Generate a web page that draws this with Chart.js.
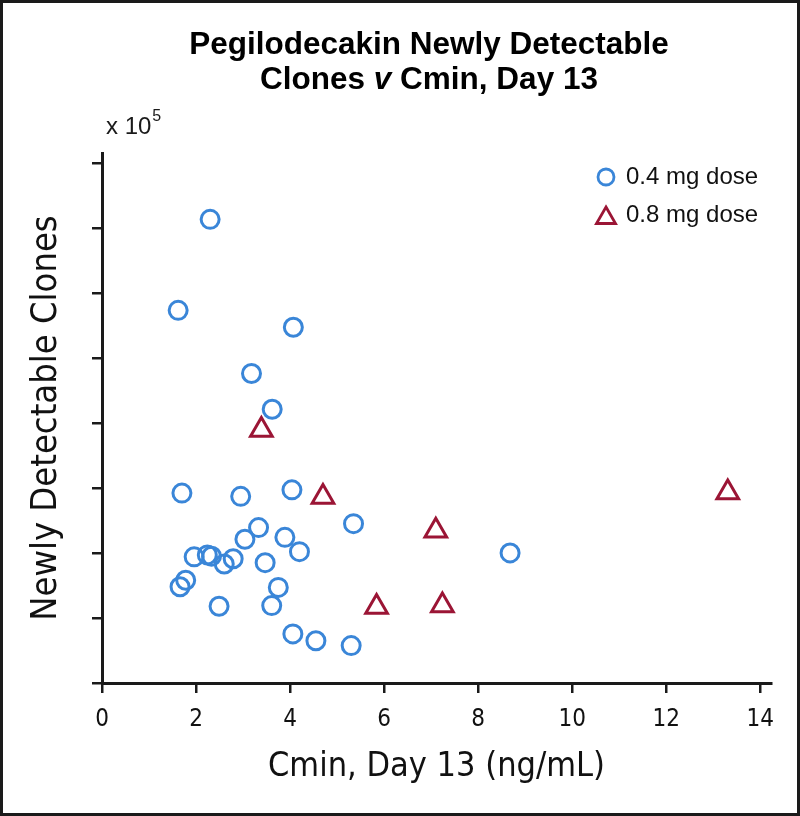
<!DOCTYPE html>
<html><head><meta charset="utf-8">
<script src="https://cdn.jsdelivr.net/npm/chart.js@4/dist/chart.umd.min.js"></script>
<style>
html,body{margin:0;padding:0;background:#fff;}
#frame{width:800px;height:816px;box-sizing:border-box;border:3px solid #1a1a1a;background:#fff;}
canvas{display:block;}
</style></head><body>
<div id="frame"><canvas id="c" width="794" height="810" style="width:794px;height:810px"></canvas></div>
<script>
// Cmin (ng/mL) and newly detectable clones (x 10^5)
const dose04Cmin   = [2.30,1.62,4.07,3.18,3.62,1.70,2.95,4.04,5.35,3.33,3.04,3.89,4.20,8.68,1.96,2.24,2.33,2.79,2.60,3.47,1.78,1.66,3.75,3.61,2.49,4.06,4.55,5.30];
const dose04Clones = [7.13,5.73,5.47,4.76,4.21,2.92,2.87,2.97,2.45,2.39,2.21,2.24,2.02,2.00,1.94,1.97,1.95,1.91,1.83,1.85,1.58,1.48,1.47,1.19,1.18,0.755,0.65,0.575];
const dose08Cmin   = [3.39,4.70,7.10,13.31,5.84,7.24];
const dose08Clones = [3.89,2.86,2.34,2.93,1.17,1.19];
const xTicks = [0,2,4,6,8,10,12,14];
const yTicks = [0,1,2,3,4,5,6,7,8];
const seriesNames = ['0.4 mg dose','0.8 mg dose'];

const BLUE = '#3a86d8', RED = '#9b1535', INK = '#1a1a1a';
const NARROW = "'Liberation Sans Narrow','DejaVu Sans Condensed','Roboto',sans-serif";
const SANS = "'Liberation Sans','Helvetica','Arial',sans-serif";

const toPts = (xs, ys) => xs.map((x, i) => ({x, y: ys[i]}));

const annot = {
  id: 'annot',
  afterDraw(chart) {
    const ctx = chart.ctx;
    const ca = chart.chartArea;
    ctx.save();
    ctx.fillStyle = '#000';
    // Title
    const tx = 426;
    const TF = '31.5px ';
    ctx.font = 'bold ' + TF + SANS;
    ctx.textAlign = 'center';
    ctx.textBaseline = 'middle';
    ctx.fillText('Pegilodecakin Newly Detectable', tx, 42);
    const parts = [['Clones ', 'bold ' + TF], ['v', 'italic bold ' + TF], [' Cmin, Day 13', 'bold ' + TF]];
    let total = 0;
    parts.forEach(p => { ctx.font = p[1] + SANS; total += ctx.measureText(p[0]).width; });
    let cx = tx - total / 2;
    ctx.textAlign = 'left';
    parts.forEach(p => { ctx.font = p[1] + SANS; ctx.fillText(p[0], cx, 77); cx += ctx.measureText(p[0]).width; });
    // multiplier
    ctx.textBaseline = 'alphabetic';
    ctx.font = '24px ' + SANS;
    ctx.fillStyle = INK;
    ctx.fillText('x 10', ca.left + 4, 130.5);
    const w = ctx.measureText('x 10').width;
    ctx.font = '16px ' + SANS;
    ctx.fillText('5', ca.left + 4 + w + 1, 118);
    // legend
    const items = [
      {label: seriesNames[0], style: 'circle', color: BLUE, r: 8, y: 174},
      {label: seriesNames[1], style: 'triangle', color: RED, r: 11, y: 212}
    ];
    items.forEach(it => {
      ctx.strokeStyle = it.color;
      ctx.fillStyle = 'rgba(0,0,0,0)';
      ctx.lineWidth = 2.8;
      Chart.helpers.drawPoint(ctx, {pointStyle: it.style, rotation: 0, radius: it.r, borderWidth: 2.8}, 603, it.y + (it.style === 'triangle' ? 3 : 0));
      ctx.fillStyle = '#111';
      ctx.font = '24px ' + SANS;
      ctx.textAlign = 'left';
      ctx.textBaseline = 'middle';
      ctx.fillText(it.label, 623, it.y);
    });
    ctx.restore();
  }
};

new Chart(document.getElementById('c'), {
  type: 'scatter',
  data: {
    datasets: [
      {label: seriesNames[0], data: toPts(dose04Cmin, dose04Clones), pointStyle: 'circle', pointRadius: 9, pointHoverRadius: 9,
       borderColor: BLUE, backgroundColor: 'rgba(0,0,0,0)', pointBorderWidth: 3, order: 1},
      {label: seriesNames[1], data: toPts(dose08Cmin, dose08Clones), pointStyle: 'triangle', pointRadius: 12.5, pointHoverRadius: 12.5,
       borderColor: RED, backgroundColor: 'rgba(0,0,0,0)', pointBorderWidth: 3, order: 0}
    ]
  },
  options: {
    responsive: false,
    animation: false,
    events: [],
    clip: false,
    layout: {padding: {top: 150, right: 26, left: 0, bottom: 0}},
    plugins: {legend: {display: false}, title: {display: false}, tooltip: {enabled: false}},
    scales: {
      x: {
        type: 'linear', min: 0, max: 14.23,
        afterBuildTicks: s => { s.ticks = xTicks.map(v => ({value: v})); },
        afterFit: s => { s.height = 130; },
        ticks: {color: '#111', font: {family: NARROW, size: 24}, padding: 12},
        grid: {drawOnChartArea: false, drawTicks: true, tickLength: 10, color: INK, lineWidth: 2.5},
        border: {color: INK, width: 3},
        title: {display: true, text: 'Cmin, Day 13 (ng/mL)', color: '#111', font: {family: NARROW, size: 34}, padding: {top: 0, bottom: 25}}
      },
      y: {
        type: 'linear', min: 0, max: 8.15,
        afterBuildTicks: s => { s.ticks = yTicks.map(v => ({value: v})); },
        afterFit: s => { s.width = 99; },
        ticks: {callback: () => '', padding: 0},
        grid: {drawOnChartArea: false, drawTicks: true, tickLength: 10, color: INK, lineWidth: 2.5},
        border: {color: INK, width: 3},
        title: {display: true, text: 'Newly Detectable Clones', color: '#111', font: {family: NARROW, size: 36}, padding: {top: 22, bottom: 0}}
      }
    }
  },
  plugins: [annot]
});
</script>
</body></html>
